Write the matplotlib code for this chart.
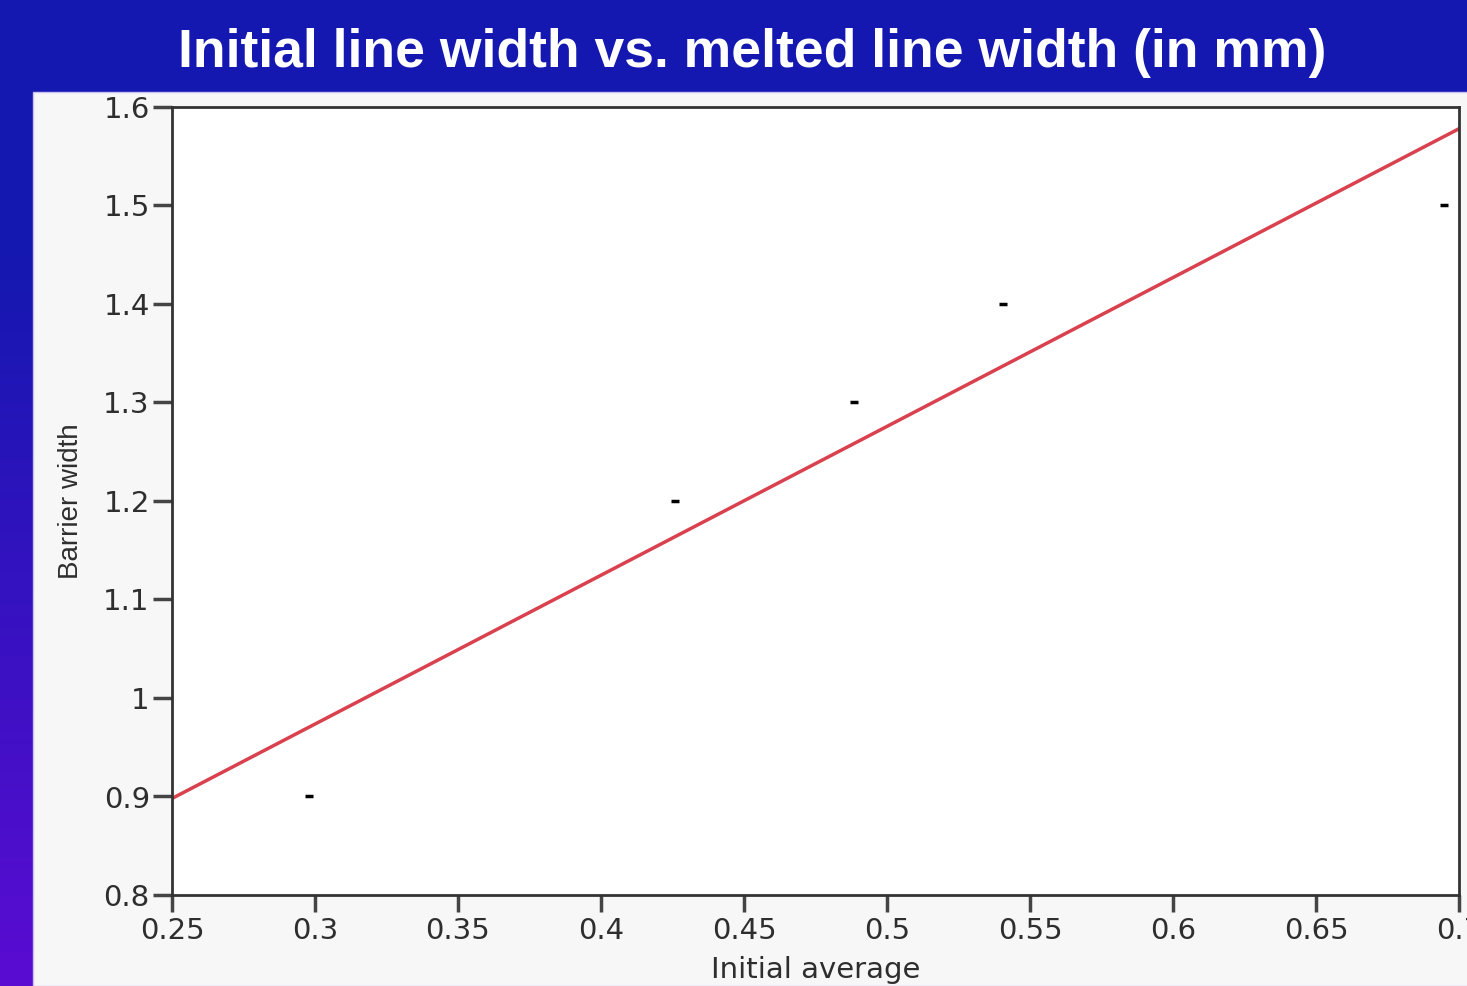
import numpy as np
import matplotlib
matplotlib.use("Agg")
import matplotlib.pyplot as plt
from matplotlib.patches import Rectangle
from matplotlib.colors import to_rgb

# data
initial_avg = [0.298, 0.426, 0.4885, 0.5406, 0.6948]
barrier_width = [0.9, 1.2, 1.3, 1.4, 1.5]
x_ticks = [0.25, 0.3, 0.35, 0.4, 0.45, 0.5, 0.55, 0.6, 0.65, 0.7]
x_labels = ['0.25', '0.3', '0.35', '0.4', '0.45', '0.5', '0.55', '0.6', '0.65', '0.7']
y_ticks = [0.8, 0.9, 1.0, 1.1, 1.2, 1.3, 1.4, 1.5, 1.6]
y_labels = ['0.8', '0.9', '1', '1.1', '1.2', '1.3', '1.4', '1.5', '1.6']

fig = plt.figure(figsize=(14.67, 9.86), dpi=100)

# background: blue at the top fading to purple towards the bottom
bg = fig.add_axes([0, 0, 1, 1], zorder=-10)
top = np.array(to_rgb('#1418B0'))
bot = np.array(to_rgb('#5A0CD2'))
rows = np.linspace(0, 1, 200)
t = np.clip((rows - 0.25) / 0.75, 0, 1)[:, None]
grad = top * (1 - t) + bot * t
bg.imshow(grad[:, None, :], aspect='auto', extent=[0, 1, 0, 1], origin='upper')
bg.set_xlim(0, 1)
bg.set_ylim(0, 1)
bg.axis('off')

# light panel behind the plot
fig.patches.append(Rectangle((33 / 1467, 0), 1, 1 - 92 / 986, transform=fig.transFigure,
                             facecolor='#F7F7F7', edgecolor='#C8C0F0', linewidth=1, zorder=-5))

fig.text(0.5126, 0.946, 'Initial line width vs. melted line width (in mm)', color='white',
         fontsize=38.5, fontweight='bold', family='Liberation Sans', ha='center', va='center')

ax = fig.add_axes([172 / 1467, 91 / 986, 1287 / 1467, 788 / 986])
ax.set_facecolor('white')

# least squares line through the points
slope, icpt = np.polyfit(initial_avg, barrier_width, 1)
xl = np.array([0.25, 0.7])
ax.plot(xl, slope * xl + icpt, color='#D9414E', lw=2.5, zorder=2)
ax.plot(initial_avg, barrier_width, linestyle='none', marker='_', markersize=6,
        markeredgewidth=2.5, color='black', zorder=3)

ax.set_xlim(0.25, 0.7)
ax.set_ylim(0.8, 1.6)
ax.set_xticks(x_ticks)
ax.set_xticklabels(x_labels)
ax.set_yticks(y_ticks)
ax.set_yticklabels(y_labels)
for s in ax.spines.values():
    s.set_color('#333333')
    s.set_linewidth(2)
ax.tick_params(axis='x', direction='out', length=12, width=2.5, color='#444444',
               labelsize=21, labelcolor='#2e2e2e', pad=4)
ax.tick_params(axis='y', direction='out', length=14, width=2.5, color='#444444',
               labelsize=21, labelcolor='#2e2e2e', pad=2)
ax.set_xlabel('Initial average', fontsize=21, color='#2e2e2e', labelpad=8)
ax.set_ylabel('Barrier width', fontsize=20, color='#2e2e2e', family='Liberation Sans', labelpad=14)

fig.savefig('out.png', dpi=100)
